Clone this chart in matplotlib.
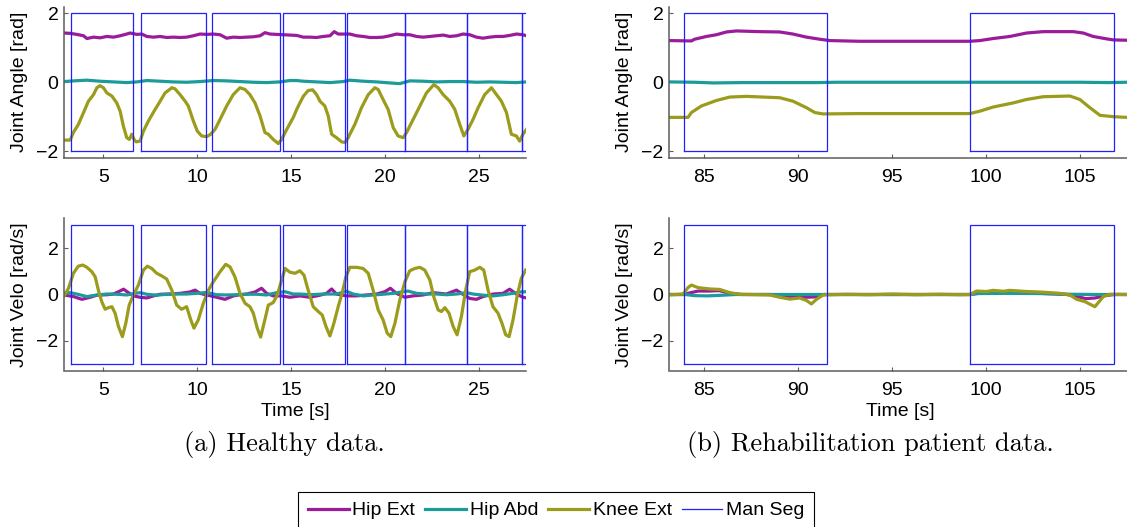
import matplotlib
matplotlib.use("Agg")
import matplotlib.pyplot as plt
from matplotlib.lines import Line2D

plt.rcParams['font.family'] = ['Liberation Sans', 'DejaVu Sans']

W, H, DPI = 1127, 527, 100

# ---------------- healthy subject ----------------
h_knee_t = [2.91, 3.23, 3.40, 3.67, 3.94, 4.20, 4.47, 4.65, 4.82, 5.00, 5.18, 5.45, 5.71, 5.89,
            6.06, 6.24, 6.38, 6.51, 6.63, 6.74, 6.95, 7.13, 7.39, 7.75, 8.02, 8.28, 8.64, 8.81,
            9.08, 9.35, 9.52, 9.79, 10.00, 10.23, 10.50, 10.71, 10.94, 11.21, 11.56, 11.91,
            12.27, 12.54, 12.80, 13.07, 13.34, 13.60, 13.78, 14.04, 14.31, 14.49, 14.76, 15.11,
            15.29, 15.46, 15.64, 15.90, 16.14, 16.35, 16.53, 16.79, 16.97, 17.15, 17.41, 17.68,
            17.86, 18.03, 18.39, 18.74, 19.10, 19.45, 19.63, 19.89, 20.16, 20.43, 20.69, 20.96,
            21.14, 21.49, 21.85, 22.20, 22.59, 22.82, 23.09, 23.44, 23.71, 23.97, 24.19, 24.41,
            24.68, 24.95, 25.30, 25.66, 25.93, 26.19, 26.46, 26.72, 26.99, 27.16, 27.34, 27.52]
h_knee_ang = [-1.68, -1.68, -1.46, -1.22, -0.88, -0.55, -0.36, -0.16, -0.10, -0.16, -0.31, -0.40,
              -0.60, -0.84, -1.27, -1.61, -1.66, -1.51, -1.66, -1.73, -1.71, -1.42, -1.13, -0.79,
              -0.55, -0.31, -0.16, -0.19, -0.36, -0.55, -0.69, -1.13, -1.42, -1.56, -1.58, -1.51,
              -1.37, -1.08, -0.69, -0.36, -0.16, -0.21, -0.36, -0.60, -0.98, -1.46, -1.51, -1.66,
              -1.78, -1.66, -1.37, -1.02, -0.79, -0.60, -0.41, -0.24, -0.22, -0.36, -0.55, -0.69,
              -0.98, -1.51, -1.61, -1.73, -1.75, -1.61, -1.22, -0.74, -0.36, -0.16, -0.21, -0.50,
              -0.79, -1.32, -1.56, -1.61, -1.46, -1.08, -0.69, -0.31, -0.07, -0.16, -0.36, -0.55,
              -0.79, -1.22, -1.56, -1.37, -1.08, -0.74, -0.36, -0.16, -0.36, -0.55, -0.88, -1.51,
              -1.56, -1.71, -1.51, -1.37]

h_hipext_t = [2.91, 3.23, 3.58, 3.94, 4.12, 4.47, 4.82, 5.18, 5.53, 5.89, 6.24, 6.42, 6.78, 7.04,
              7.31, 7.66, 8.02, 8.37, 8.72, 9.08, 9.43, 9.79, 10.14, 10.50, 10.85, 11.21, 11.56,
              11.92, 12.27, 12.63, 12.98, 13.34, 13.60, 13.87, 14.22, 14.58, 14.93, 15.29, 15.64,
              15.99, 16.35, 16.70, 17.06, 17.29, 17.50, 17.86, 18.12, 18.48, 18.83, 19.19, 19.54,
              19.89, 20.25, 20.60, 20.96, 21.31, 21.67, 22.02, 22.38, 22.73, 23.09, 23.44, 23.80,
              24.15, 24.50, 24.86, 25.21, 25.57, 25.92, 26.28, 26.63, 26.99, 27.34, 27.52]
h_hipext_ang = [1.43, 1.42, 1.39, 1.35, 1.27, 1.31, 1.29, 1.33, 1.31, 1.35, 1.40, 1.43, 1.39, 1.40,
                1.33, 1.31, 1.33, 1.30, 1.31, 1.30, 1.31, 1.35, 1.40, 1.39, 1.40, 1.38, 1.28,
                1.31, 1.30, 1.31, 1.32, 1.35, 1.44, 1.40, 1.39, 1.38, 1.37, 1.36, 1.31,
                1.31, 1.30, 1.33, 1.35, 1.47, 1.40, 1.40, 1.40, 1.35, 1.33, 1.30, 1.30,
                1.31, 1.35, 1.40, 1.38, 1.38, 1.33, 1.31, 1.33, 1.35, 1.37, 1.33, 1.35,
                1.40, 1.38, 1.31, 1.28, 1.31, 1.33, 1.33, 1.36, 1.40, 1.38, 1.35]

h_hipabd_t = [2.91, 3.41, 4.12, 4.82, 5.53, 6.24, 6.78, 7.31, 8.02, 8.72, 9.43, 10.14, 10.85,
              11.56, 12.27, 12.98, 13.69, 14.40, 14.93, 15.29, 15.64, 16.35, 17.06, 17.77, 18.12,
              18.83, 19.54, 20.25, 20.78, 21.31, 22.02, 22.73, 23.44, 24.15, 24.86, 25.57,
              26.28, 26.99, 27.52]
h_hipabd_ang = [0.02, 0.04, 0.06, 0.03, 0.01, -0.01, 0.01, 0.05, 0.03, 0.01, 0.00, 0.02, 0.05,
                0.04, 0.02, 0.00, -0.01, 0.01, 0.05, 0.05, 0.03, 0.01, -0.01, 0.02, 0.06,
                0.03, 0.01, -0.02, -0.04, 0.04, 0.03, 0.01, 0.02, 0.02, 0.00, 0.01,
                0.00, -0.01, 0.01]

h_knee_vt = [2.91, 3.14, 3.40, 3.66, 3.90, 4.12, 4.38, 4.56, 4.73, 4.91, 5.09, 5.27, 5.45, 5.62,
             5.80, 6.01, 6.19, 6.37, 6.60, 6.86, 7.13, 7.34, 7.57, 7.84, 8.10, 8.37, 8.64, 8.90,
             9.16, 9.43, 9.65, 9.82, 10.05, 10.32, 10.59, 10.85, 11.21, 11.51, 11.74, 12.00,
             12.27, 12.54, 12.80, 12.98, 13.19, 13.37, 13.55, 13.78, 14.04, 14.26, 14.49, 14.67,
             14.93, 15.20, 15.46, 15.68, 15.90, 16.17, 16.44, 16.65, 16.85, 17.06, 17.27, 17.50,
             17.73, 17.91, 18.12, 18.48, 18.83, 19.10, 19.36, 19.63, 19.89, 20.11, 20.30, 20.52,
             20.78, 21.05, 21.31, 21.58, 21.85, 22.11, 22.38, 22.59, 22.82, 23.00, 23.18, 23.40,
             23.62, 23.83, 24.06, 24.29, 24.50, 24.77, 25.04, 25.25, 25.48, 25.74, 26.01, 26.22,
             26.42, 26.60, 26.81, 27.04, 27.25, 27.48]
h_knee_vel = [-0.06, 0.27, 0.92, 1.23, 1.28, 1.18, 0.99, 0.77, 0.19, -0.31, -0.64, -0.57, -0.53,
              -0.81, -1.39, -1.83, -1.25, -0.46, -0.02, 0.41, 1.06, 1.23, 1.13, 0.92, 0.81, 0.67,
              0.19, -0.46, -0.64, -0.53, -1.10, -1.46, -1.10, -0.38, 0.19, 0.55, 0.99, 1.31, 1.20,
              0.77, 0.05, -0.38, -0.53, -0.81, -1.46, -1.85, -1.25, -0.46, -0.35, -0.02, 0.63,
              1.13, 0.97, 0.92, 1.03, 0.84, 0.19, -0.53, -0.74, -0.89, -1.39, -1.80, -1.25, -0.53,
              0.12, 0.77, 1.18, 1.18, 1.13, 0.92, 0.19, -0.67, -1.10, -1.68, -1.83, -1.25, -0.24,
              0.55, 1.03, 1.13, 1.18, 1.06, 0.63, -0.10, -0.67, -0.74, -0.57, -0.81, -1.39, -1.75,
              -0.96, 0.19, 0.99, 1.06, 1.18, 1.06, 0.19, -0.53, -0.81, -1.25, -1.75, -1.83, -1.10,
              -0.02, 0.70, 1.06]

h_hipext_vt = [2.91, 3.41, 3.85, 4.29, 4.65, 5.18, 5.53, 5.80, 6.07, 6.33, 6.60, 6.95, 7.31, 7.66,
               8.02, 8.55, 9.08, 9.61, 9.88, 10.14, 10.50, 11.03, 11.47, 11.92, 12.27, 12.63,
               13.07, 13.42, 13.69, 14.04, 14.49, 14.93, 15.46, 15.99, 16.53, 16.88, 17.15,
               17.41, 17.94, 18.48, 19.01, 19.54, 19.98, 20.28, 20.60, 21.05, 21.49, 22.02,
               22.55, 22.91, 23.26, 23.80, 24.06, 24.50, 24.86, 25.21, 25.75, 26.28, 26.63,
               26.99, 27.34, 27.52]
h_hipext_vel = [-0.02, -0.09, -0.21, -0.12, -0.03, -0.01, 0.02, 0.12, 0.23, 0.08, -0.06, -0.12,
                -0.15, -0.06, 0.01, 0.02, 0.05, 0.11, 0.19, 0.05, -0.02, -0.12, -0.21, -0.06,
                -0.01, 0.02, 0.11, 0.27, 0.05, -0.06, -0.06, -0.12, -0.06, -0.12, -0.03, 0.05,
                0.24, 0.02, -0.06, -0.06, -0.02, 0.02, 0.12, 0.27, 0.05, -0.12, -0.06, -0.02,
                0.08, 0.05, 0.02, 0.19, 0.05, -0.17, -0.21, -0.09, 0.02, 0.05, 0.23,
                0.02, -0.12, -0.15]

h_hipabd_vt = [2.91, 3.23, 3.58, 4.12, 4.65, 5.18, 5.71, 6.24, 6.69, 6.95, 7.31, 7.84, 8.37, 8.90,
               9.43, 9.96, 10.50, 11.03, 11.56, 12.09, 12.63, 13.16, 13.69, 14.22, 14.67, 15.11,
               15.46, 15.99, 16.70, 17.41, 17.94, 18.30, 18.83, 19.36, 19.89, 20.43, 20.96,
               21.22, 21.67, 22.20, 22.73, 23.26, 23.80, 24.33, 24.68, 25.21, 25.75, 26.28,
               26.81, 27.16, 27.52]
h_hipabd_vel = [0.05, 0.08, 0.02, -0.09, -0.02, 0.02, 0.01, -0.02, 0.05, 0.08, 0.01, -0.03, 0.01,
                0.02, 0.02, 0.05, 0.09, -0.01, -0.02, -0.01, 0.01, 0.01, -0.02, 0.08, 0.12, 0.02,
                0.02, -0.01, 0.02, 0.02, 0.14, 0.02, -0.06, -0.02, 0.01, 0.05, 0.12,
                0.15, 0.05, 0.02, 0.02, -0.01, 0.02, 0.08, 0.02, -0.03, -0.06, -0.01,
                0.05, 0.11, 0.12]

h_seg_start = [3.27, 7.02, 10.80, 14.54, 17.98, 21.05, 24.38, 27.27]
h_seg_end = [6.60, 10.48, 14.40, 17.86, 21.05, 24.38, 27.27, 27.90]

# ---------------- rehabilitation patient ----------------
p_hipext_t = [83.14, 84.33, 84.50, 85.13, 85.66, 86.19, 86.72, 87.96, 89.03, 89.73, 90.45, 91.15,
              91.69, 93.28, 95.94, 99.13, 99.66, 100.37, 101.26, 102.15, 103.03, 104.63, 105.16,
              105.69, 106.40, 106.76, 107.47]
p_hipext_ang = [1.21, 1.20, 1.25, 1.33, 1.38, 1.46, 1.49, 1.47, 1.46, 1.40, 1.31, 1.25,
                1.21, 1.19, 1.19, 1.19, 1.21, 1.27, 1.33, 1.43, 1.47, 1.47, 1.43,
                1.33, 1.26, 1.23, 1.22]

p_hipabd_t = [83.14, 84.50, 85.50, 87.00, 89.00, 91.00, 92.00, 95.00, 99.00, 100.50, 103.00,
              105.00, 106.50, 107.47]
p_hipabd_ang = [0.01, 0.00, -0.02, -0.01, -0.01, -0.01, 0.00, 0.00, 0.00, 0.00, 0.00,
                0.00, -0.01, 0.00]

p_knee_t = [83.14, 84.15, 84.33, 84.86, 85.66, 86.37, 87.26, 89.03, 89.73, 90.45, 90.89, 91.33,
            93.28, 95.94, 99.13, 99.66, 100.37, 101.44, 102.15, 103.03, 104.45, 104.98, 105.52,
            106.05, 106.76, 107.47]
p_knee_ang = [-1.02, -1.02, -0.88, -0.69, -0.53, -0.43, -0.41, -0.45, -0.55, -0.74, -0.88, -0.92,
              -0.91, -0.91, -0.91, -0.84, -0.72, -0.60, -0.50, -0.42, -0.40, -0.50, -0.74,
              -0.96, -1.00, -1.02]

p_knee_vt = [83.14, 83.89, 84.15, 84.33, 84.68, 85.30, 85.84, 86.37, 86.90, 88.49, 89.03, 89.56,
             90.09, 90.45, 90.71, 90.98, 91.33, 92.57, 93.81, 95.06, 96.30, 97.54, 98.60, 99.13,
             99.49, 100.02, 100.37, 100.91, 101.26, 101.79, 102.15, 103.03, 103.92, 104.45,
             104.81, 105.25, 105.78, 106.23, 106.58, 107.47]
p_knee_vel = [-0.02, 0.02, 0.30, 0.41, 0.30, 0.24, 0.22, 0.08, 0.01, -0.02, -0.12, -0.20,
              -0.15, -0.26, -0.41, -0.21, -0.02, 0.01, -0.01, 0.02, -0.01, 0.01, -0.01, 0.00,
              0.15, 0.13, 0.18, 0.14, 0.18, 0.15, 0.13, 0.10, 0.05, -0.02,
              -0.21, -0.31, -0.53, -0.09, 0.01, 0.00]

p_hipext_vt = [83.14, 83.90, 84.30, 84.70, 85.30, 85.80, 86.40, 87.00, 88.50, 89.20, 89.80, 90.40,
               91.00, 91.40, 95.00, 99.13, 99.60, 100.50, 101.50, 102.50, 103.50, 104.30, 104.90,
               105.30, 105.80, 106.30, 106.80, 107.47]
p_hipext_vel = [0.00, 0.00, 0.08, 0.15, 0.15, 0.17, 0.05, 0.00, 0.00, -0.05, -0.10, -0.12,
                -0.10, 0.00, 0.00, 0.00, 0.05, 0.08, 0.08, 0.06, 0.03, 0.00, -0.10,
                -0.18, -0.15, -0.05, 0.00, 0.00]

p_hipabd_vt = [83.14, 84.00, 84.50, 85.20, 86.00, 86.70, 90.00, 91.50, 99.13, 99.50, 101.00,
               103.00, 104.50, 106.00, 107.47]
p_hipabd_vel = [0.00, 0.00, -0.05, -0.06, -0.03, 0.00, 0.00, 0.00, 0.00, 0.04, 0.05,
                0.04, 0.01, 0.00, 0.00]

p_seg_start = [83.94, 99.13]
p_seg_end = [91.53, 106.77]

# ---------------- styling ----------------
names = ['Hip Ext', 'Hip Abd', 'Knee Ext', 'Man Seg']
colors = ['#9b1c9b', '#1c9b9b', '#9b9b1c', '#2020ff']
LW = 2.3
SEG_LW = 0.9
AX_GREY = '#5c5c5c'

fig = plt.figure(figsize=(W / DPI, H / DPI), dpi=DPI)


def add_axes_px(left, top, right, bottom):
    return fig.add_axes([left / W, 1 - bottom / H, (right - left) / W, (bottom - top) / H])


def style(ax, xlim, ylim, xticks, yticks, ylabel, xlabel=None):
    ax.set_xlim(*xlim)
    ax.set_ylim(*ylim)
    ax.set_xticks(xticks)
    ax.set_yticks(yticks)
    for s in ('top', 'right'):
        ax.spines[s].set_visible(False)
    for s in ('left', 'bottom'):
        ax.spines[s].set_color(AX_GREY)
        ax.spines[s].set_linewidth(1.1)
    ax.tick_params(direction='in', length=3, width=0.8, color=AX_GREY,
                   labelsize=14, labelcolor='black')
    ax.tick_params(axis='x', pad=8)
    ax.tick_params(axis='y', pad=4)
    ax.set_ylabel(ylabel, fontsize=14)
    ax.yaxis.set_label_coords(-0.078, 0.5)
    if xlabel:
        ax.set_xlabel(xlabel, fontsize=14, labelpad=3)


def draw_segments(ax, starts, ends, lo, hi):
    for s, e in zip(starts, ends):
        ax.plot([s, e, e, s, s], [lo, lo, hi, hi, lo], color=colors[3], lw=SEG_LW,
                solid_joinstyle='miter')


ax_ha = add_axes_px(64, 6.5, 526, 158)
ax_hv = add_axes_px(64, 218.5, 526, 370.5)
ax_pa = add_axes_px(669, 6.5, 1131, 158)
ax_pv = add_axes_px(669, 218.5, 1131, 370.5)

ax_ha.plot(h_hipext_t, h_hipext_ang, color=colors[0], lw=LW)
ax_ha.plot(h_hipabd_t, h_hipabd_ang, color=colors[1], lw=LW)
ax_ha.plot(h_knee_t, h_knee_ang, color=colors[2], lw=LW)
draw_segments(ax_ha, h_seg_start, h_seg_end, -2, 2)

ax_hv.plot(h_hipext_vt, h_hipext_vel, color=colors[0], lw=LW)
ax_hv.plot(h_hipabd_vt, h_hipabd_vel, color=colors[1], lw=LW)
ax_hv.plot(h_knee_vt, h_knee_vel, color=colors[2], lw=LW)
draw_segments(ax_hv, h_seg_start, h_seg_end, -3, 3)

ax_pa.plot(p_hipext_t, p_hipext_ang, color=colors[0], lw=LW)
ax_pa.plot(p_hipabd_t, p_hipabd_ang, color=colors[1], lw=LW)
ax_pa.plot(p_knee_t, p_knee_ang, color=colors[2], lw=LW)
draw_segments(ax_pa, p_seg_start, p_seg_end, -2, 2)

ax_pv.plot(p_hipext_vt, p_hipext_vel, color=colors[0], lw=LW)
ax_pv.plot(p_hipabd_vt, p_hipabd_vel, color=colors[1], lw=LW)
ax_pv.plot(p_knee_vt, p_knee_vel, color=colors[2], lw=LW)
draw_segments(ax_pv, p_seg_start, p_seg_end, -3, 3)

h_xticks = [5, 10, 15, 20, 25]
p_xticks = [85, 90, 95, 100, 105]
style(ax_ha, (2.9, 27.5), (-2.2, 2.2), h_xticks, [-2, 0, 2], 'Joint Angle [rad]')
style(ax_hv, (2.9, 27.5), (-3.3, 3.3), h_xticks, [-2, 0, 2], 'Joint Velo [rad/s]', 'Time [s]')
style(ax_pa, (83.14, 107.7), (-2.2, 2.2), p_xticks, [-2, 0, 2], 'Joint Angle [rad]')
style(ax_pv, (83.14, 107.7), (-3.3, 3.3), p_xticks, [-2, 0, 2], 'Joint Velo [rad/s]', 'Time [s]')

fig.text(284 / W, 1 - 444 / H, '(a) Healthy data.', ha='center', va='center',
         family='cmr10', fontsize=19)
fig.text(870 / W, 1 - 444 / H, '(b) Rehabilitation patient data.', ha='center', va='center',
         family='cmr10', fontsize=19)

handles = [Line2D([], [], color=colors[0], lw=LW),
           Line2D([], [], color=colors[1], lw=LW),
           Line2D([], [], color=colors[2], lw=LW),
           Line2D([], [], color=colors[3], lw=SEG_LW)]
leg = fig.legend(handles, names, loc='upper left', bbox_to_anchor=(298 / W, 1 - 492 / H),
                 ncol=4, fontsize=14, frameon=True, fancybox=False, framealpha=1,
                 edgecolor='black', handlelength=2.1, handletextpad=0.2, columnspacing=0.5,
                 borderpad=0.5, borderaxespad=0)
leg.get_frame().set_linewidth(0.8)

fig.savefig('out.png', dpi=DPI)
